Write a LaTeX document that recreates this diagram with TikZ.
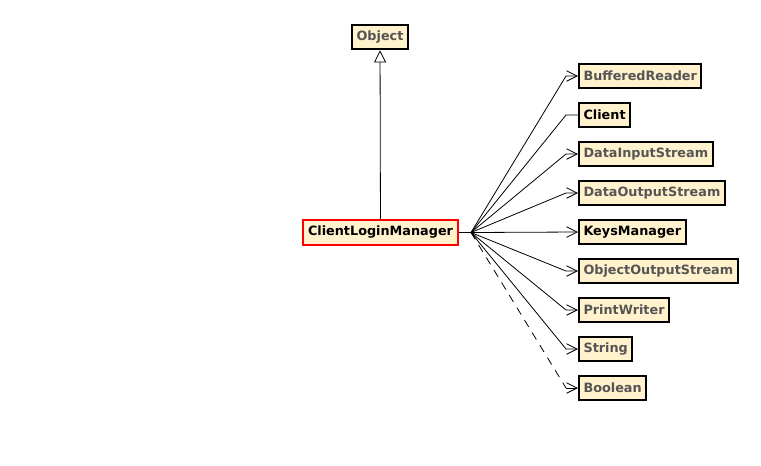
\documentclass[tikz,border=0pt]{standalone}
\usepackage{fontspec}
\setmainfont{DejaVu Sans}
\usetikzlibrary{positioning, arrows.meta}

\definecolor{clsfill}{HTML}{FFF2CC}
\definecolor{libtext}{HTML}{555555}

\tikzset{
    cls/.style={draw, line width=1.5pt, fill=clsfill, anchor=west, minimum height=18.5pt,
        inner xsep=3.4pt, inner ysep=0pt, font=\fontsize{9.6pt}{11pt}\selectfont\bfseries},
    libcls/.style={cls, text=libtext},
    usesedge/.style={line width=0.6pt, -{Straight Barb[length=8pt,width=8pt,line width=0.6pt]}},
    inheritedge/.style={line width=0.6pt, -{Triangle[open,length=9pt,width=9pt,line width=0.6pt]}}
}

\begin{document}
\begin{tikzpicture}[x=0.75pt, y=-0.75pt]
        \useasboundingbox (0,0) rectangle (761,465);

        \node[libcls, anchor=center] (object) at (380,37) {Object};
        \node[cls, draw=red, anchor=center] (manager) at (380.5,232.5) {ClientLoginManager};

        \node[libcls] (bufreader) at (578,76) {BufferedReader};
        \node[cls] (client) at (578,115) {Client};
        \node[libcls] (datain) at (578,154) {DataInputStream};
        \node[libcls] (dataout) at (578,193) {DataOutputStream};
        \node[cls] (keys) at (578,232) {KeysManager};
        \node[libcls] (objout) at (578,271) {ObjectOutputStream};
        \node[libcls] (printwr) at (578,310) {PrintWriter};
        \node[libcls] (string) at (578,349) {String};
        \node[libcls] (boolean) at (578,388) {Boolean};

        \coordinate (hub) at (471,232.5);

        \draw[inheritedge] (manager) -- (object);
        \draw[line width=0.6pt] (manager.east) -- (hub);

        \draw[usesedge] (hub) -- (566,76) -- (bufreader.west);
        \draw[line width=0.6pt] (hub) -- (566,115) -- (client.west);
        \draw[usesedge] (hub) -- (566,154) -- (datain.west);
        \draw[usesedge] (hub) -- (566,193) -- (dataout.west);
        \draw[usesedge] (hub) -- (keys.west);
        \draw[usesedge] (hub) -- (566,271) -- (objout.west);
        \draw[usesedge] (hub) -- (566,310) -- (printwr.west);
        \draw[usesedge] (hub) -- (566,349) -- (string.west);
        \draw[line width=0.6pt, dash pattern=on 6pt off 5pt] (hub) -- (566,388);
        \draw[usesedge] (566,388) -- (boolean.west);
    \end{tikzpicture}
\end{document}
